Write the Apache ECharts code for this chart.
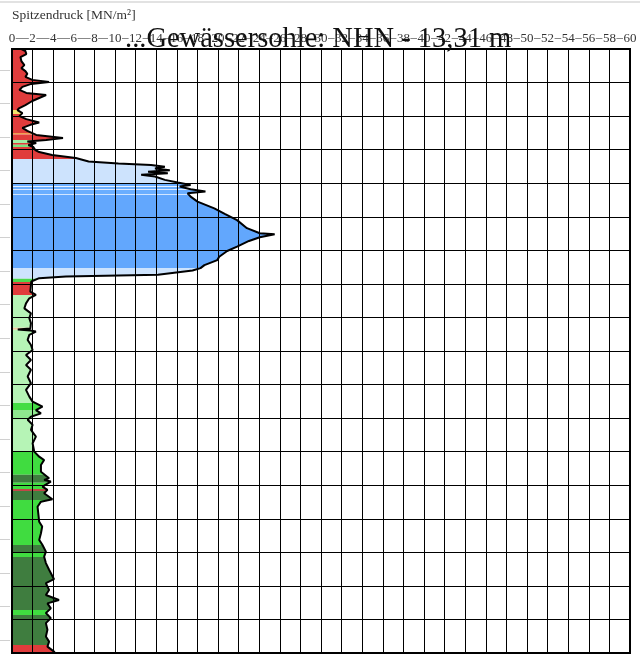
<!DOCTYPE html>
<html><head><meta charset="utf-8">
<script src="https://cdn.jsdelivr.net/npm/echarts@6/dist/echarts.min.js"></script>
<style>html,body{margin:0;padding:0;background:#fff}#c{width:640px;height:661px}#topline{position:absolute;left:0;top:1px;width:640px;height:2px;background:#e2e2e2}</style>
</head><body><div id="c"></div><div id="topline"></div>
<script>
// Cone resistance profile: depth (m below start) and Spitzendruck qc (MN/m²)
const depth = [0,0.06,0.15,0.24,0.36,0.48,0.57,0.66,0.74,0.83,0.92,0.98,1.04,1.13,1.22,1.31,1.37,1.46,1.55,1.67,1.76,1.82,1.91,2.00,2.09,2.19,2.26,2.35,2.44,2.56,2.65,2.71,2.76,2.80,2.86,2.92,3.01,3.07,3.16,3.25,3.35,3.41,3.46,3.51,3.56,3.61,3.66,3.70,3.75,3.80,3.90,3.98,4.05,4.10,4.18,4.25,4.30,4.40,4.55,4.75,4.92,5.10,5.34,5.49,5.52,5.61,5.72,5.89,6.02,6.19,6.29,6.44,6.53,6.60,6.73,6.78,6.83,6.93,7.03,7.23,7.33,7.43,7.58,7.73,7.88,8.02,8.17,8.33,8.36,8.39,8.42,8.52,8.67,8.82,8.97,9.12,9.27,9.42,9.56,9.76,9.96,10.16,10.36,10.51,10.66,10.76,10.86,10.96,11.05,11.20,11.35,11.55,11.75,12.00,12.15,12.25,12.40,12.60,12.79,12.84,12.89,13.04,13.14,13.24,13.42,13.49,13.64,13.89,14.09,14.23,14.43,14.63,14.78,14.98,15.13,15.32,15.52,15.80,15.92,16.12,16.27,16.42,16.52,16.67,16.81,16.96,17.11,17.31,17.51,17.66,17.81,17.96,18.0];
const qc = [0.91,1.30,1.39,0.82,0.91,1.20,0.91,1.30,1.49,1.30,1.97,3.60,1.87,1.01,0.72,1.39,3.31,2.64,1.97,1.30,0.72,0.53,1.01,0.72,1.39,2.64,1.78,1.01,1.49,2.35,4.95,3.31,1.49,2.35,1.59,2.07,2.26,2.64,3.89,6.20,7.44,10.33,13.50,14.84,13.88,15.32,13.21,15.13,12.54,13.88,14.84,16.09,17.34,16.28,17.34,18.78,17.05,17.34,18.01,19.64,20.70,21.85,22.81,24.06,25.50,24.06,23.01,21.85,20.89,20.12,19.93,18.68,18.30,17.53,14.17,5.24,2.64,1.87,1.84,1.78,2.32,1.68,1.36,1.20,1.84,1.68,1.84,1.78,0.56,1.78,2.32,1.68,1.52,1.84,2.00,1.36,1.84,1.36,1.84,1.52,1.84,1.36,1.68,2.00,2.96,2.32,2.81,1.84,1.52,2.00,1.84,2.32,2.00,2.16,2.64,3.12,2.81,2.81,3.60,3.12,3.77,2.96,3.44,3.12,3.92,2.81,2.48,2.57,2.64,2.93,2.81,2.64,2.96,3.29,3.12,3.29,3.60,4.08,3.29,3.60,3.29,4.56,3.44,3.77,3.29,3.77,3.29,3.44,3.29,3.60,3.44,4.08,4.18];

// Soil classification bands (depth from / to, colour)
const layerTop    = [0,1.82,1.94,2.50,2.55,2.71,2.80,2.85,2.92,3.28,3.99,4.08,4.11,4.17,4.20,4.32,4.35,6.53,6.85,6.94,7.33,8.31,8.37,10.55,10.76,11.05,12.01,12.69,12.93,13.11,13.17,13.44,14.78,14.99,15.14,16.72,16.87,17.76];
const layerBottom = [1.82,1.94,2.50,2.55,2.71,2.80,2.85,2.92,3.28,3.99,4.08,4.11,4.17,4.20,4.32,4.35,6.53,6.85,6.94,7.33,8.31,8.37,10.55,10.76,11.05,12.01,12.69,12.93,13.11,13.17,13.44,14.78,14.99,15.14,16.72,16.87,17.76,18.0];
const layerColor  = ['#e03c3c','#f3e36a','#e03c3c','#f0a050','#e03c3c','#a4eea4','#e03c3c','#7fe07f','#e03c3c','#cde3fd','#6aaeff','#e8f1ff','#6aaeff','#dce9ff','#6aaeff','#d2e6ff','#62a7fd','#cde3fd','#4cd94c','#e03c3c','#b6f4b6','#f0c8a0','#b6f4b6','#44dd44','#8fe88f','#b6f4b6','#40dc40','#3f7d3f','#40dc40','#c04848','#3f7d3f','#40dc40','#3f7d3f','#40dc40','#3f7d3f','#40dc40','#3f7d3f','#e03c3c'];

const xMin = 0, xMax = 60, xStep = 2;
const depthMin = 0, depthMax = 18, depthStep = 1;
const titleText = '...Gewässersohle: NHN - 13,31 m';
const axisName = 'Spitzendruck [MN/m²]';

function qAt(d) {
  for (let i = 0; i < depth.length - 1; i++) {
    if (d >= depth[i] && d <= depth[i + 1]) {
      const t = (d - depth[i]) / ((depth[i + 1] - depth[i]) || 1);
      return qc[i] + t * (qc[i + 1] - qc[i]);
    }
  }
  return qc[qc.length - 1];
}

function renderLayer(params, api) {
  const t = api.value(0), b = api.value(1);
  const pts = [api.coord([0, t]), api.coord([qAt(t), t])];
  for (let i = 0; i < depth.length; i++) {
    if (depth[i] > t && depth[i] < b) pts.push(api.coord([qc[i], depth[i]]));
  }
  pts.push(api.coord([qAt(b), b]));
  pts.push(api.coord([0, b]));
  return { type: 'polygon', shape: { points: pts }, style: { fill: layerColor[params.dataIndex] } };
}

const chart = echarts.init(document.getElementById('c'), null, { renderer: 'canvas' });
chart.setOption({
  animation: false,
  backgroundColor: '#fff',
  title: [
    { text: axisName, left: 12, top: 8, padding: 0, z: 1,
      textStyle: { fontFamily: 'Liberation Serif', fontSize: 13.5, fontWeight: 'normal', color: '#333' } },
    { text: titleText, left: 125, top: 25, padding: 0, z: 10,
      textStyle: { fontFamily: 'Liberation Serif', fontSize: 28.5, fontWeight: 'normal', color: '#111' } }
  ],
  grid: [
    { left: 12, right: 3, top: 49, bottom: 8, show: true, borderColor: '#000', borderWidth: 2, backgroundColor: 'transparent' },
    { left: 0, width: 10, top: 70, height: 570, show: false }
  ],
  xAxis: [
    { type: 'value', gridIndex: 0, position: 'top', min: xMin, max: xMax, interval: xStep, offset: 11, z: 2,
      axisLine: { show: true, onZero: false, lineStyle: { color: '#888', width: 1 } },
      axisTick: { show: false },
      axisLabel: { margin: -7, fontFamily: 'Liberation Serif', fontSize: 13, color: '#333', backgroundColor: '#fff', padding: [0, 0.5] },
      splitLine: { show: true, lineStyle: { color: '#000', width: 1 } } },
    { type: 'value', gridIndex: 1, show: false, min: 0, max: 1 }
  ],
  yAxis: [
    { type: 'value', gridIndex: 0, inverse: true, min: depthMin, max: depthMax, interval: depthStep,
      axisLine: { show: false }, axisTick: { show: false }, axisLabel: { show: false },
      splitLine: { show: true, lineStyle: { color: '#000', width: 1 } } },
    { type: 'value', gridIndex: 1, inverse: true, min: 0, max: 17, interval: 1,
      axisLine: { show: false }, axisTick: { show: false }, axisLabel: { show: false },
      splitLine: { show: true, lineStyle: { color: '#d0d0d0', width: 1 } } }
  ],
  series: [
    { type: 'custom', xAxisIndex: 0, yAxisIndex: 0, z: -1, silent: true,
      renderItem: renderLayer,
      data: layerTop.map((t, i) => [t, layerBottom[i]]) },
    { type: 'line', xAxisIndex: 0, yAxisIndex: 0, z: 3, showSymbol: false, symbol: 'none',
      lineStyle: { color: '#000', width: 2 },
      data: depth.map((d, i) => [qc[i], d]) }
  ]
});
</script>
</body></html>
